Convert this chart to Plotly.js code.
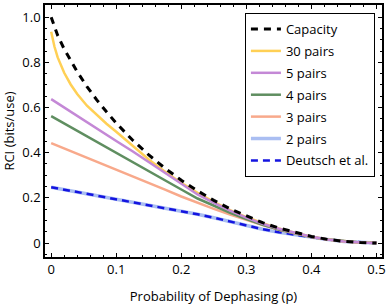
<!DOCTYPE html>
<html>
<head>
<meta charset="utf-8">
<script src="https://cdn.plot.ly/plotly-3.0.1.min.js"></script>
<style>html,body{margin:0;padding:0;background:#fff;}#chart{width:387px;height:306px;}</style>
</head>
<body>
<div id="chart"></div>
<script>
// probability of dephasing
const pSteep = [0, 0.005, 0.01, 0.02, 0.03, 0.04, 0.055, 0.07, 0.085, 0.1, 0.125, 0.15, 0.175, 0.2, 0.225, 0.25, 0.275, 0.3, 0.325, 0.35, 0.375, 0.4, 0.425, 0.45, 0.475, 0.5];
const capacity = [1.0, 0.955, 0.919, 0.859, 0.806, 0.758, 0.693, 0.634, 0.581, 0.531, 0.456, 0.390, 0.331, 0.278, 0.231, 0.189, 0.151, 0.119, 0.090, 0.066, 0.046, 0.029, 0.016, 0.007, 0.002, 0.0];
const pairs30 = [0.936, 0.870, 0.822, 0.754, 0.702, 0.660, 0.608, 0.566, 0.528, 0.493, 0.430, 0.370, 0.316, 0.266, 0.222, 0.182, 0.146, 0.115, 0.088, 0.064, 0.045, 0.028, 0.016, 0.007, 0.002, 0.0];

const p = [0, 0.025, 0.05, 0.075, 0.1, 0.125, 0.15, 0.175, 0.2, 0.225, 0.25, 0.275, 0.3, 0.325, 0.35, 0.375, 0.4, 0.425, 0.45, 0.475, 0.5];
const pairs5 = [0.637, 0.590, 0.543, 0.497, 0.452, 0.406, 0.358, 0.310, 0.262, 0.215, 0.178, 0.143, 0.112, 0.085, 0.063, 0.044, 0.028, 0.016, 0.007, 0.002, 0.0];
const pairs4 = [0.562, 0.521, 0.480, 0.439, 0.398, 0.357, 0.317, 0.277, 0.237, 0.197, 0.164, 0.134, 0.106, 0.081, 0.060, 0.042, 0.027, 0.015, 0.007, 0.002, 0.0];
const pairs3 = [0.442, 0.413, 0.384, 0.354, 0.325, 0.295, 0.265, 0.236, 0.206, 0.177, 0.151, 0.126, 0.101, 0.079, 0.058, 0.041, 0.026, 0.015, 0.007, 0.002, 0.0];
const pairs2 = [0.247, 0.234, 0.221, 0.207, 0.194, 0.181, 0.168, 0.155, 0.142, 0.127, 0.112, 0.094, 0.077, 0.061, 0.048, 0.036, 0.025, 0.015, 0.007, 0.002, 0.0];
const deutsch = [0.247, 0.234, 0.221, 0.207, 0.194, 0.181, 0.168, 0.155, 0.142, 0.127, 0.112, 0.094, 0.077, 0.061, 0.048, 0.036, 0.025, 0.015, 0.007, 0.002, 0.0];

const names = ["Capacity", "30 pairs", "5 pairs", "4 pairs", "3 pairs", "2 pairs", "Deutsch et al."];

const traces = [
  {x: p, y: pairs2, name: names[5], legendgroup: "g6", legendrank: 6, mode: "lines", line: {color: "#AABEF2", width: 3.5}},
  {x: p, y: deutsch, name: names[6], legendgroup: "g7", legendrank: 7, mode: "lines", line: {color: "#1414E0", width: 2.5, dash: "7px,5px"}},
  {x: p, y: pairs3, name: names[4], legendgroup: "g5", legendrank: 5, mode: "lines", line: {color: "#F8A98B", width: 2.5}},
  {x: p, y: pairs4, name: names[3], legendgroup: "g4", legendrank: 4, mode: "lines", line: {color: "#5F8E60", width: 2.5}},
  {x: pSteep, y: pairs30, name: names[1], legendgroup: "g2", legendrank: 2, mode: "lines", line: {color: "#FFD055", width: 2.5}},
  {x: p, y: pairs5, name: names[2], legendgroup: "g3", legendrank: 3, mode: "lines", line: {color: "#C488D6", width: 2.5}},
  {x: pSteep, y: capacity, name: names[0], legendgroup: "g1", legendrank: 1, mode: "lines", line: {color: "#000000", width: 3, dash: "7px,6px"}}
];

const ff = "Open Sans, sans-serif";

const layout = {
  width: 387, height: 306,
  margin: {l: 45, r: 5, t: 5, b: 49},
  paper_bgcolor: "#fff", plot_bgcolor: "#fff",
  font: {family: ff, size: 13, color: "#000"},
  showlegend: true,
  legend: {
    x: 0.979, y: 0.968, xanchor: "right", yanchor: "top",
    bgcolor: "#fff", bordercolor: "#000", borderwidth: 1,
    font: {family: ff, size: 13, color: "#000"},
    tracegroupgap: 2, itemwidth: 30
  },
  xaxis: {
    range: [-0.0095, 0.5085],
    tickvals: [0, 0.1, 0.2, 0.3, 0.4, 0.5],
    ticktext: ["0", "0.1", "0.2", "0.3", "0.4", "0.5"],
    ticks: "inside", ticklen: 4, tickwidth: 1, tickcolor: "#000",
    minor: {ticks: "inside", ticklen: 2, tickwidth: 1, tickcolor: "#000", dtick: 0.02, tick0: 0, showgrid: false},
    showline: true, linecolor: "#000", linewidth: 1.8, mirror: "ticks",
    showgrid: false, zeroline: false,
    tickfont: {family: ff, size: 13, color: "#000"},
    title: {text: "Probability of Dephasing (p)", font: {family: ff, size: 13, color: "#000"}, standoff: 14}
  },
  yaxis: {
    range: [-0.062, 1.054],
    tickvals: [0, 0.2, 0.4, 0.6, 0.8, 1.0],
    ticktext: ["0", "0.2", "0.4", "0.6", "0.8", "1.0"],
    ticks: "inside", ticklen: 4, tickwidth: 1, tickcolor: "#000",
    minor: {ticks: "inside", ticklen: 2, tickwidth: 1, tickcolor: "#000", dtick: 0.05, tick0: 0, showgrid: false},
    showline: true, linecolor: "#000", linewidth: 1.8, mirror: "ticks",
    showgrid: false, zeroline: false,
    tickfont: {family: ff, size: 13, color: "#000"},
    title: {text: "RCI (bits/use)", font: {family: ff, size: 13, color: "#000"}, standoff: 6}
  }
};

Plotly.newPlot("chart", traces, layout, {displayModeBar: false, staticPlot: true});
</script>
</body>
</html>
